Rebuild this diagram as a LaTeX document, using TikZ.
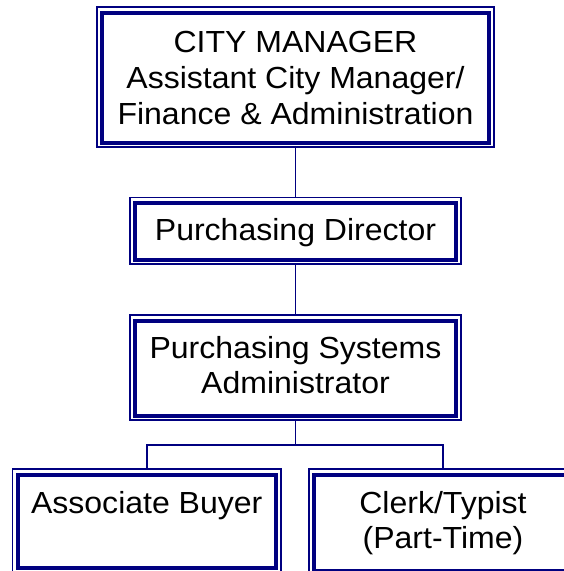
\documentclass[tikz,border=0pt]{standalone}
\usepackage{fontspec}
\setmainfont{Liberation Sans}[FakeStretch=1.05]
\definecolor{boxnavy}{RGB}{0,0,128}
\tikzset{
  outerbox/.style={draw=boxnavy, line width=1.5pt, rectangle, inner sep=0pt, fill=white},
  innerline/.style={draw=boxnavy, line width=4pt},
  conn/.style={draw=boxnavy, line width=1.5pt},
  lbl/.style={anchor=base, inner sep=0pt, font=\fontsize{30.5}{36}\selectfont, text=black},
}
\newcommand{\innerframe}[1]{\draw[innerline] ([shift={(6,6.5)}]#1.north west) rectangle ([shift={(-5.5,-5)}]#1.south east);}
\begin{document}
\begin{tikzpicture}[x=1pt,y=-1pt]
\useasboundingbox (0,0) rectangle (564,571);
\clip (0,0) rectangle (564,571);
\fill[white] (0,0) rectangle (564,571);
% boxes (outer thin frames)
\node[outerbox, minimum width=397pt, minimum height=140pt] (b1) at (295.5,77) {};
\node[outerbox, minimum width=331pt, minimum height=66.5pt] (b2) at (295.5,230.75) {};
\node[outerbox, minimum width=331pt, minimum height=105pt] (b3) at (295.5,367.5) {};
\node[outerbox, minimum width=268.5pt, minimum height=103pt] (b4) at (146.75,520.5) {};
\node[outerbox, minimum width=268pt, minimum height=106pt] (b5) at (443,522) {};
% inner thick frames
\innerframe{b1}
\innerframe{b2}
\innerframe{b3}
\innerframe{b4}
\innerframe{b5}
% connectors
\coordinate (j) at (295.5,445);
\draw[conn] (b1.south) -- (b2.north);
\draw[conn] (b2.south) -- (b3.north);
\draw[conn] (b3.south) -- (j);
\draw[conn] (j) -| (b4.north);
\draw[conn] (j) -| (b5.north);
% labels
\node[lbl] (t1a) at (295.5,52) {CITY MANAGER};
\node[lbl] (t1b) at (295.5,88) {Assistant City Manager/};
\node[lbl] (t1c) at (295.5,124) {Finance \& Administration};
\node[lbl] (t2) at (295.5,240) {Purchasing Director};
\node[lbl] (t3a) at (295.5,358) {Purchasing Systems};
\node[lbl] (t3b) at (295.5,393) {Administrator};
\node[lbl] (t4) at (146.75,513) {Associate Buyer};
\node[lbl] (t5a) at (443,513) {Clerk/Typist};
\node[lbl] (t5b) at (443,548) {(Part-Time)};
\end{tikzpicture}
\end{document}
